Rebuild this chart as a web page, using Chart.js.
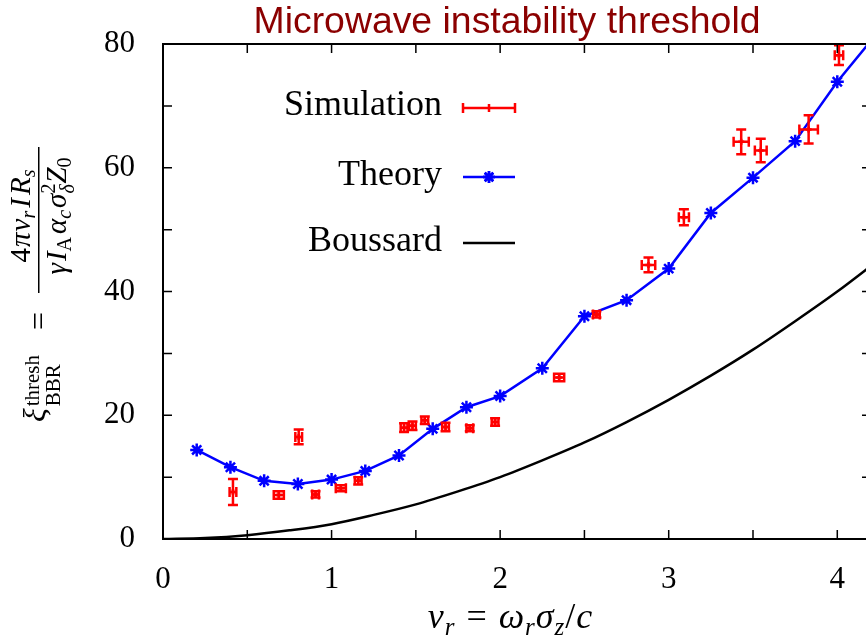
<!DOCTYPE html>
<html>
<head>
<meta charset="utf-8">
<script src="https://cdn.jsdelivr.net/npm/chart.js@4"></script>
<style>
  html, body { margin: 0; padding: 0; background: #fff; overflow: hidden; }
  #wrap { position: relative; width: 880px; height: 637px; }
</style>
</head>
<body>
<div id="wrap"><canvas id="myChart"></canvas></div>
<script>
// simulation points with error bars
const simX  = [0.415, 0.687, 0.805, 0.905, 1.055, 1.158, 1.43, 1.48, 1.553, 1.676, 1.82, 1.97, 2.35, 2.571, 2.88, 3.09, 3.43, 3.546, 3.83, 4.01];
const simY  = [7.6, 7.1, 16.5, 7.2, 8.2, 9.4, 18.0, 18.3, 19.2, 18.1, 17.9, 18.9, 26.1, 36.3, 44.3, 52.0, 64.2, 62.8, 66.2, 78.2];
const simDx = [0.02, 0.03, 0.02, 0.02, 0.03, 0.02, 0.02, 0.02, 0.02, 0.02, 0.02, 0.02, 0.03, 0.02, 0.04, 0.03, 0.045, 0.035, 0.055, 0.025];
const simDy = [2.1, 0.6, 1.2, 0.5, 0.5, 0.6, 0.7, 0.7, 0.6, 0.7, 0.5, 0.6, 0.6, 0.5, 1.2, 1.3, 2.0, 1.9, 2.3, 1.6];

// theory
const theoryX = [0.2, 0.4, 0.6, 0.8, 1.0, 1.2, 1.4, 1.6, 1.8, 2.0, 2.25, 2.5, 2.75, 3.0, 3.25, 3.5, 3.75, 4.0, 4.25];
const theoryY = [14.4, 11.6, 9.4, 8.9, 9.6, 11.0, 13.5, 17.8, 21.3, 23.1, 27.6, 36.0, 38.6, 43.7, 52.7, 58.4, 64.3, 73.9, 82.2];

// Boussard criterion
const boussX = [0, 0.25, 0.5, 0.75, 1.0, 1.25, 1.5, 1.75, 2.0, 2.25, 2.5, 2.75, 3.0, 3.25, 3.5, 3.75, 4.0, 4.25];
const boussY = [0, 0.16, 0.62, 1.4, 2.4, 3.9, 5.6, 7.7, 10.0, 12.7, 15.6, 18.9, 22.5, 26.4, 30.6, 35.2, 40.0, 45.2];

const xTicks = [0, 1, 2, 3, 4];
const yTicks = [0, 20, 40, 60, 80];

const serif = '"Liberation Serif", "DejaVu Serif", serif';

function pts(xs, ys) {
  return xs.map((x, i) => ({ x: x, y: ys[i] }));
}

// draws a list of text pieces along a baseline, returns width
function richText(ctx, parts, x, y, align, draw) {
  let w = 0;
  parts.forEach(p => {
    ctx.font = (p.i ? 'italic ' : '') + p.s + 'px ' + serif;
    p.w = ctx.measureText(p.t).width;
    if (!p.stack) w += p.w + (p.g || 0);
  });
  if (draw === false) return w;
  let cx = align === 'center' ? x - w / 2 : x;
  let lastX = cx;
  parts.forEach(p => {
    ctx.font = (p.i ? 'italic ' : '') + p.s + 'px ' + serif;
    if (p.stack) {
      ctx.fillText(p.t, lastX, y + (p.dy || 0));
    } else {
      lastX = cx;
      ctx.fillText(p.t, cx, y + (p.dy || 0));
      cx += p.w + (p.g || 0);
    }
  });
  return w;
}

const errorBars = {
  id: 'errorBars',
  afterDatasetsDraw(chart) {
    const { ctx, chartArea, scales } = chart;
    const meta = chart.getDatasetMeta(0);
    ctx.save();
    ctx.beginPath();
    ctx.rect(chartArea.left, chartArea.top, chartArea.right - chartArea.left, chartArea.bottom - chartArea.top);
    ctx.clip();
    ctx.strokeStyle = '#ff0000';
    ctx.lineWidth = 2.5;
    const cap = 5;
    meta.data.forEach((pt, i) => {
      const x0 = scales.x.getPixelForValue(simX[i] - simDx[i]);
      const x1 = scales.x.getPixelForValue(simX[i] + simDx[i]);
      const y0 = scales.y.getPixelForValue(simY[i] - simDy[i]);
      const y1 = scales.y.getPixelForValue(simY[i] + simDy[i]);
      ctx.beginPath();
      ctx.moveTo(x0, pt.y); ctx.lineTo(x1, pt.y);
      ctx.moveTo(x0, pt.y - cap); ctx.lineTo(x0, pt.y + cap);
      ctx.moveTo(x1, pt.y - cap); ctx.lineTo(x1, pt.y + cap);
      ctx.moveTo(pt.x, y0); ctx.lineTo(pt.x, y1);
      ctx.moveTo(pt.x - cap, y0); ctx.lineTo(pt.x + cap, y0);
      ctx.moveTo(pt.x - cap, y1); ctx.lineTo(pt.x + cap, y1);
      ctx.stroke();
    });
    ctx.restore();
  }
};

const frame = {
  id: 'frame',
  afterDraw(chart) {
    const { ctx, chartArea: a, scales } = chart;
    ctx.save();
    ctx.strokeStyle = '#000';
    ctx.lineWidth = 2;
    ctx.strokeRect(a.left, a.top, a.right - a.left, a.bottom - a.top);
    ctx.lineWidth = 1.5;
    ctx.beginPath();
    scales.x.ticks.forEach(t => {
      const px = scales.x.getPixelForValue(t.value);
      if (px <= a.left + 1 || px >= a.right - 1) return;
      ctx.moveTo(px, a.bottom); ctx.lineTo(px, a.bottom - 9);
      ctx.moveTo(px, a.top); ctx.lineTo(px, a.top + 9);
    });
    scales.y.ticks.forEach(t => {
      const py = scales.y.getPixelForValue(t.value);
      if (py <= a.top + 1 || py >= a.bottom - 1) return;
      ctx.moveTo(a.left, py); ctx.lineTo(a.left + 9, py);
      ctx.moveTo(a.right, py); ctx.lineTo(a.right - 9, py);
    });
    ctx.stroke();

    // title
    ctx.fillStyle = '#8b0000';
    ctx.font = '36px "Liberation Sans", Arial, sans-serif';
    ctx.textBaseline = 'alphabetic';
    const title = 'Microwave instability threshold';
    const tw = ctx.measureText(title).width;
    ctx.save();
    ctx.translate(507, 33);
    ctx.scale(507 / tw, 1);
    ctx.textAlign = 'center';
    ctx.fillText(title, 0, 0);
    ctx.restore();

    // x axis title
    ctx.fillStyle = '#000';
    ctx.textAlign = 'left';
    richText(ctx, [
      { t: 'ν', i: true, s: 36, g: 1 },
      { t: 'r', i: true, s: 25, dy: 7, g: 12 },
      { t: '=', s: 36, g: 12 },
      { t: 'ω', i: true, s: 36, g: 1 },
      { t: 'r', i: true, s: 25, dy: 7, g: 1 },
      { t: 'σ', i: true, s: 36, g: 1 },
      { t: 'z', i: true, s: 25, dy: 7, g: 1 },
      { t: '/', s: 36, g: 1 },
      { t: 'c', i: true, s: 36 }
    ], 510, 628, 'center');

    // y axis title, rotated
    ctx.save();
    ctx.translate(43, 288);
    ctx.rotate(-Math.PI / 2);
    richText(ctx, [
      { t: 'ξ', i: true, s: 32, g: 2 },
      { t: 'thresh', s: 21, dy: -6 },
      { t: 'BBR', s: 21, dy: 15, stack: true, g: 10 },
    ], -134, 2, 'left');
    ctx.font = '32px ' + serif;
    ctx.fillText('=', -42, 6);
    ctx.fillRect(-5, -5, 146, 1.5);
    richText(ctx, [
      { t: '4', s: 29, g: 1 },
      { t: 'π', i: true, s: 29, g: 1 },
      { t: 'ν', i: true, s: 29 },
      { t: 'r', i: true, s: 20, dy: 5, g: 3 },
      { t: 'I', i: true, s: 29, g: 3 },
      { t: 'R', i: true, s: 29 },
      { t: 's', i: true, s: 20, dy: 5 }
    ], 72, -13, 'center');
    richText(ctx, [
      { t: 'γ', i: true, s: 29, g: 2 },
      { t: 'I', i: true, s: 29 },
      { t: 'A', s: 20, dy: 5, g: 3 },
      { t: 'α', i: true, s: 29 },
      { t: 'c', i: true, s: 20, dy: 5, g: 2 },
      { t: 'σ', i: true, s: 29 },
      { t: '2', s: 20, dy: -11 },
      { t: 'δ', i: true, s: 20, dy: 8, stack: true, g: 3 },
      { t: 'Z', i: true, s: 29 },
      { t: '0', s: 20, dy: 5 }
    ], 72, 23, 'center');
    ctx.restore();

    // legend
    ctx.font = '36px ' + serif;
    ctx.textAlign = 'right';
    ctx.textBaseline = 'middle';
    ctx.fillStyle = '#000';
    ctx.fillText('Simulation', 442, 106);
    ctx.fillText('Theory', 442, 176);
    ctx.fillText('Boussard', 442, 242);

    ctx.lineWidth = 2.5;
    ctx.strokeStyle = '#ff0000';
    ctx.beginPath();
    ctx.moveTo(463, 108); ctx.lineTo(515, 108);
    ctx.moveTo(463, 103); ctx.lineTo(463, 113);
    ctx.moveTo(515, 103); ctx.lineTo(515, 113);
    ctx.moveTo(489, 104); ctx.lineTo(489, 112);
    ctx.stroke();

    ctx.strokeStyle = '#0000ff';
    ctx.beginPath();
    ctx.moveTo(463, 177); ctx.lineTo(515, 177);
    ctx.stroke();
    Chart.helpers.drawPoint(ctx, { pointStyle: 'star', radius: 6, borderWidth: 2.5 }, 489, 177);
    ctx.stroke();

    ctx.strokeStyle = '#000';
    ctx.beginPath();
    ctx.moveTo(463, 243); ctx.lineTo(515, 243);
    ctx.stroke();
    ctx.restore();
  }
};

new Chart(document.getElementById('myChart'), {
  type: 'scatter',
  data: {
    datasets: [{
      label: 'Simulation',
      data: pts(simX, simY),
      pointStyle: 'cross',
      pointRadius: 3,
      borderColor: '#ff0000',
      backgroundColor: '#ff0000',
      borderWidth: 2.5,
      showLine: false
    }, {
      label: 'Theory',
      data: pts(theoryX, theoryY),
      showLine: true,
      borderColor: '#0000ff',
      backgroundColor: '#0000ff',
      borderWidth: 2.5,
      pointStyle: 'star',
      pointRadius: 6.5,
      pointBorderWidth: 2.5
    }, {
      label: 'Boussard',
      data: pts(boussX, boussY),
      showLine: true,
      borderColor: '#000000',
      borderWidth: 2.5,
      pointRadius: 0,
      cubicInterpolationMode: 'monotone'
    }]
  },
  options: {
    responsive: true,
    maintainAspectRatio: false,
    animation: false,
    layout: { padding: { left: 0, top: 44, right: 6, bottom: 0 } },
    plugins: { legend: { display: false }, tooltip: { enabled: false } },
    scales: {
      x: {
        type: 'linear',
        min: 0, max: 4.2,
        grid: { display: false },
        border: { display: false },
        ticks: {
          stepSize: 0.5,
          includeBounds: false,
          maxRotation: 0,
          autoSkip: false,
          padding: 14,
          color: '#000',
          font: { family: serif, size: 31 },
          callback: v => xTicks.includes(v) ? String(v) : ''
        },
        afterFit: s => { s.height = 98; }
      },
      y: {
        min: 0, max: 80,
        grid: { display: false },
        border: { display: false },
        ticks: {
          stepSize: 10,
          padding: 20,
          color: '#000',
          font: { family: serif, size: 31 },
          callback: v => yTicks.includes(v) ? String(v) : ''
        },
        afterFit: s => { s.height = undefined; s.width = 163; }
      }
    }
  },
  plugins: [errorBars, frame]
});
</script>
</body>
</html>
